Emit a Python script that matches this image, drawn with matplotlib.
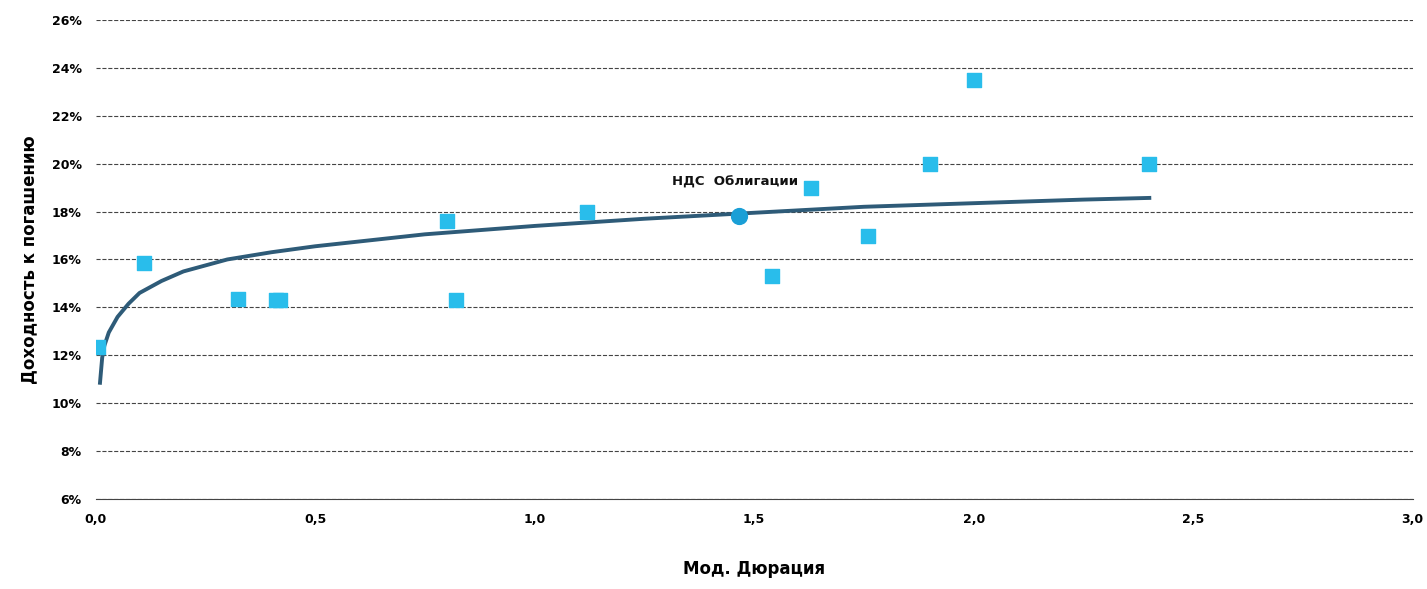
import matplotlib
matplotlib.use("Agg")
import matplotlib.pyplot as plt
from matplotlib.ticker import FuncFormatter, MultipleLocator

# bonds scatter
dur = [0.005, 0.11, 0.325, 0.41, 0.42, 0.80, 0.82, 1.12, 1.54, 1.63, 1.76, 1.90, 2.00, 2.40]
ytm = [12.35, 15.85, 14.35, 14.3, 14.3, 17.6, 14.3, 18.0, 15.3, 19.0, 17.0, 20.0, 23.5, 20.0]

# highlighted bond
nds_dur = [1.465]
nds_ytm = [17.8]
nds_label = "НДС  Облигации"

# trend curve
curve_x = [0.01, 0.015, 0.02, 0.03, 0.05, 0.075, 0.1, 0.15, 0.2, 0.3, 0.4, 0.5, 0.75, 1.0, 1.25, 1.5, 1.75, 2.0, 2.25, 2.4]
curve_y = [10.85, 11.9, 12.4, 12.95, 13.6, 14.15, 14.6, 15.1, 15.5, 16.0, 16.3, 16.55, 17.05, 17.4, 17.7, 17.95, 18.2, 18.35, 18.5, 18.57]

fig, ax = plt.subplots(figsize=(14.27, 5.89), dpi=100)
fig.subplots_adjust(left=0.067, right=0.99, top=0.966, bottom=0.153)

ax.plot(curve_x, curve_y, color="#2E5B78", lw=2.8, zorder=3)
ax.scatter(dur, ytm, marker="s", s=90, color="#29BDEB", zorder=4)
ax.scatter(nds_dur, nds_ytm, marker="o", s=130, color="#1A9FD6", zorder=5)
ax.annotate(nds_label, (nds_dur[0], nds_ytm[0]), xytext=(-48, 22), textcoords="offset points",
            fontsize=9.5, fontweight="bold", color="#111111")

ax.set_xlim(0, 3.0)
ax.set_ylim(6, 26)
ax.xaxis.set_major_locator(MultipleLocator(0.5))
ax.yaxis.set_major_locator(MultipleLocator(2))
ax.xaxis.set_major_formatter(FuncFormatter(lambda v, p: f"{v:.1f}".replace(".", ",")))
ax.yaxis.set_major_formatter(FuncFormatter(lambda v, p: f"{v:.0f}%"))
ax.grid(axis="y", ls="--", color="#444444", lw=0.8)
for s in ["top", "right", "left"]:
    ax.spines[s].set_visible(False)
ax.spines["bottom"].set_color("#444444")
ax.tick_params(length=0, labelsize=9, pad=10)
for lab in ax.get_xticklabels() + ax.get_yticklabels():
    lab.set_fontweight("bold")
ax.set_xlabel("Мод. Дюрация", fontsize=12, fontweight="bold", labelpad=25)
ax.set_ylabel("Доходность к погашению", fontsize=12, fontweight="bold", labelpad=10)

fig.savefig("out.png")
